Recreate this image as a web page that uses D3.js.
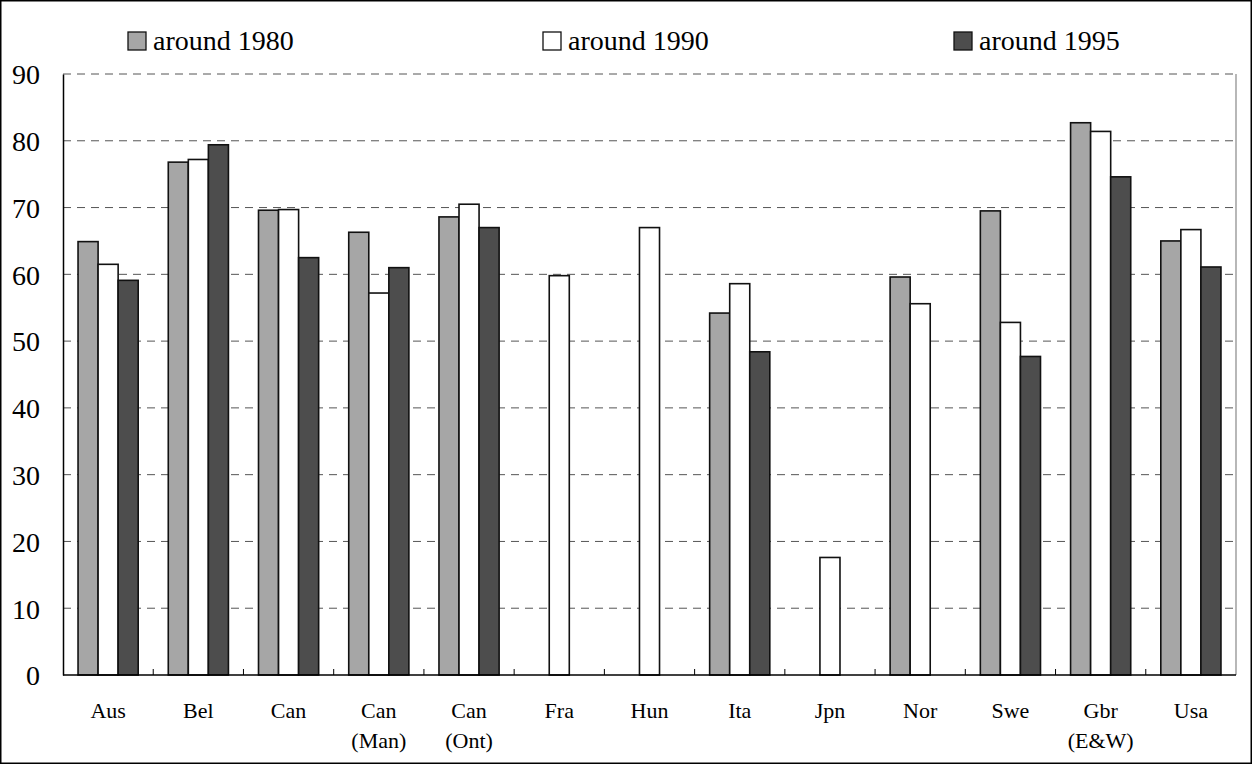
<!DOCTYPE html>
<html><head><meta charset="utf-8">
<script src="https://cdn.jsdelivr.net/npm/d3@7"></script>
<style>body{margin:0;background:#fff}svg{display:block}text{font-family:'Liberation Serif','Times New Roman',serif}</style>
</head><body>
<svg id="c" width="1252" height="764"></svg>
<script>
const categories = ["Aus","Bel","Can","Can\n(Man)","Can\n(Ont)","Fra","Hun","Ita","Jpn","Nor","Swe","Gbr\n(E&W)","Usa"];
const seriesNames = ["around 1980","around 1990","around 1995"];
const s1980 = [64.9,76.8,69.6,66.3,68.6,null,null,54.2,null,59.6,69.5,82.7,65.0];
const s1990 = [61.5,77.2,69.7,57.2,70.5,59.8,67.0,58.6,17.6,55.6,52.8,81.4,66.7];
const s1995 = [59.1,79.4,62.5,61.0,67.0,null,null,48.4,null,null,47.7,74.6,61.1];
const yTicks = [0,10,20,30,40,50,60,70,80,90];
const colors = ["#a6a6a6","#ffffff","#4d4d4d"];
const series = [s1980,s1990,s1995];

const svg = d3.select("#c");
const L=63, R=1236, T=74, B=675;
const font = "'Liberation Serif','Times New Roman',serif";

svg.append("rect").attr("x",0.75).attr("y",0.75).attr("width",1250.5).attr("height",762.5)
  .attr("fill","#fff").attr("stroke","#000").attr("stroke-width",1.5);

const x = d3.scaleBand().domain(d3.range(categories.length)).range([L,R]).paddingInner(0).paddingOuter(0);
const xs = d3.scaleBand().domain(d3.range(3)).range([0,x.bandwidth()]).paddingInner(0).paddingOuter(0.75);
const y = d3.scaleLinear().domain([0,90]).range([B,T]);

// gridlines
svg.append("g").selectAll("line").data(yTicks.filter(d=>d>0)).join("line")
  .attr("x1",L).attr("x2",R).attr("y1",d=>y(d)).attr("y2",d=>y(d))
  .attr("stroke","#555").attr("stroke-width",1).attr("stroke-dasharray","8,6");
// right border
svg.append("line").attr("x1",R).attr("x2",R).attr("y1",T).attr("y2",B).attr("stroke","#888").attr("stroke-width",1.2);

// bars
series.forEach((s,si)=>{
  svg.append("g").selectAll("rect").data(s.map((v,i)=>({v,i})).filter(d=>d.v!=null)).join("rect")
    .attr("x",d=>x(d.i)+xs(si)).attr("width",xs.bandwidth())
    .attr("y",d=>y(d.v)).attr("height",d=>B-y(d.v))
    .attr("fill",colors[si]).attr("stroke","#111").attr("stroke-width",1.6);
});

// y axis
const ya = svg.append("g").attr("transform",`translate(${L},0)`)
  .call(d3.axisLeft(y).tickValues(yTicks).tickSize(0).tickPadding(23).tickFormat(d3.format("d")));
ya.select(".domain").attr("stroke","#000").attr("stroke-width",1.5);
ya.selectAll("text").style("font-family",font).attr("font-size",28).attr("fill","#000").attr("dy","0.35em");

// x axis
const xa = svg.append("g").attr("transform",`translate(0,${B})`);
xa.append("line").attr("x1",L).attr("x2",R).attr("stroke","#000").attr("stroke-width",1.5);
xa.selectAll("line.sep").data(d3.range(1,categories.length)).join("line").attr("class","sep")
  .attr("x1",d=>x(d)).attr("x2",d=>x(d)).attr("y1",0).attr("y2",-6).attr("stroke","#000");
const lab = xa.selectAll("text").data(categories).join("text")
  .attr("text-anchor","middle").style("font-family",font).attr("font-size",22).attr("fill","#000");
lab.each(function(d,i){
  const t=d3.select(this);
  d.split("\n").forEach((ln,k)=>{
    t.append("tspan").attr("x",x(i)+x.bandwidth()/2).attr("y",43+k*30).text(ln);
  });
});

// legend
const legX = [128,543,954];
seriesNames.forEach((n,i)=>{
  svg.append("rect").attr("x",legX[i]).attr("y",32).attr("width",18).attr("height",18)
    .attr("fill",colors[i]).attr("stroke","#111").attr("stroke-width",1.3);
  svg.append("text").attr("x",legX[i]+25).attr("y",50).style("font-family",font).attr("font-size",28)
    .attr("fill","#000").text(n);
});
</script>
</body></html>
